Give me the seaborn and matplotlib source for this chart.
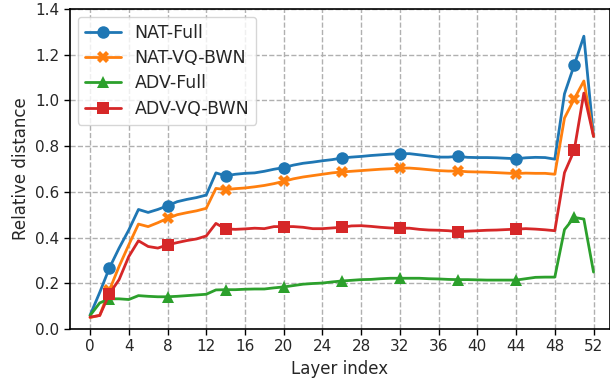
import numpy as np
import matplotlib
matplotlib.use("Agg")
import matplotlib.pyplot as plt
import seaborn as sns

# Layer indices 0..52
layers = list(range(53))

# Values
nat_full = [0.06, 0.16, 0.267, 0.354, 0.433, 0.523, 0.510, 0.523, 0.539, 0.557,
            0.567, 0.575, 0.586, 0.683, 0.670, 0.677, 0.681, 0.683, 0.690, 0.699,
            0.706, 0.717, 0.725, 0.730, 0.736, 0.741, 0.748, 0.752, 0.755, 0.759,
            0.762, 0.765, 0.767, 0.767, 0.762, 0.757, 0.752, 0.752, 0.755, 0.751,
            0.750, 0.750, 0.749, 0.747, 0.745, 0.749, 0.751, 0.750, 0.743, 1.029,
            1.154, 1.281, 0.843]
nat_vq = [0.05, 0.06, 0.170, 0.274, 0.368, 0.459, 0.448, 0.465, 0.484, 0.500,
          0.509, 0.517, 0.528, 0.615, 0.610, 0.614, 0.617, 0.622, 0.628, 0.636,
          0.646, 0.657, 0.665, 0.671, 0.677, 0.683, 0.687, 0.690, 0.693, 0.696,
          0.699, 0.701, 0.704, 0.704, 0.701, 0.697, 0.693, 0.691, 0.691, 0.688,
          0.687, 0.686, 0.684, 0.682, 0.680, 0.682, 0.681, 0.681, 0.677, 0.923,
          1.006, 1.085, 0.843]
adv_full = [0.059, 0.114, 0.132, 0.132, 0.129, 0.146, 0.143, 0.141, 0.141, 0.143,
            0.146, 0.149, 0.152, 0.171, 0.172, 0.172, 0.174, 0.175, 0.175, 0.180,
            0.184, 0.190, 0.196, 0.199, 0.201, 0.206, 0.210, 0.213, 0.216, 0.217,
            0.220, 0.222, 0.222, 0.222, 0.222, 0.220, 0.219, 0.217, 0.216, 0.216,
            0.215, 0.214, 0.214, 0.214, 0.214, 0.220, 0.226, 0.227, 0.227, 0.435,
            0.488, 0.481, 0.249]
adv_vq = [0.052, 0.059, 0.154, 0.216, 0.317, 0.386, 0.361, 0.354, 0.368, 0.378,
          0.387, 0.394, 0.407, 0.462, 0.438, 0.436, 0.438, 0.441, 0.439, 0.448,
          0.448, 0.448, 0.445, 0.439, 0.439, 0.442, 0.445, 0.451, 0.452, 0.449,
          0.445, 0.442, 0.441, 0.441, 0.436, 0.433, 0.432, 0.430, 0.426, 0.428,
          0.430, 0.432, 0.433, 0.435, 0.437, 0.439, 0.437, 0.434, 0.430, 0.684,
          0.781, 1.032, 0.843]

series_names = ["NAT-Full", "NAT-VQ-BWN", "ADV-Full", "ADV-VQ-BWN"]
series_vals = [nat_full, nat_vq, adv_full, adv_vq]
markers = ["o", "X", "^", "s"]
colors = ["#1f77b4", "#ff7f0e", "#2ca02c", "#d62728"]

sns.set_style("ticks")
plt.rcParams["font.family"] = ["DejaVu Sans"]

fig = plt.figure(figsize=(6.1, 3.88), dpi=100)
ax = fig.add_axes([70 / 610, 1 - 329 / 388, 1 - 70 / 610, 320 / 388])

for name, vals, m, c in zip(series_names, series_vals, markers, colors):
    sns.lineplot(x=layers, y=vals, ax=ax, label=name, color=c, marker=m,
                 markersize=9, markeredgewidth=0, linewidth=2,
                 markevery=slice(2, None, 6))

ax.set_xlim(-2.07, 53.7)
ax.set_ylim(0, 1.4)
ax.set_xticks(range(0, 53, 4))
ax.set_yticks(np.arange(0, 1.41, 0.2))
ax.set_yticklabels([f"{v:.1f}" for v in np.arange(0, 1.41, 0.2)])
ax.tick_params(labelsize=11, length=4, width=1, color="black")
ax.grid(True, linestyle="--", color="#b0b0b0", linewidth=1)
for s in ax.spines.values():
    s.set_color("black")
    s.set_linewidth(1.2)
ax.set_xlabel("Layer index", fontsize=12)
ax.set_ylabel("Relative distance", fontsize=12)
ax.legend(loc="upper left", fontsize=12.5, handlelength=2.07, labelspacing=0.42,
          borderaxespad=0.45, frameon=True, framealpha=0.8, edgecolor="#cccccc")

fig.savefig("out.png", dpi=100)
